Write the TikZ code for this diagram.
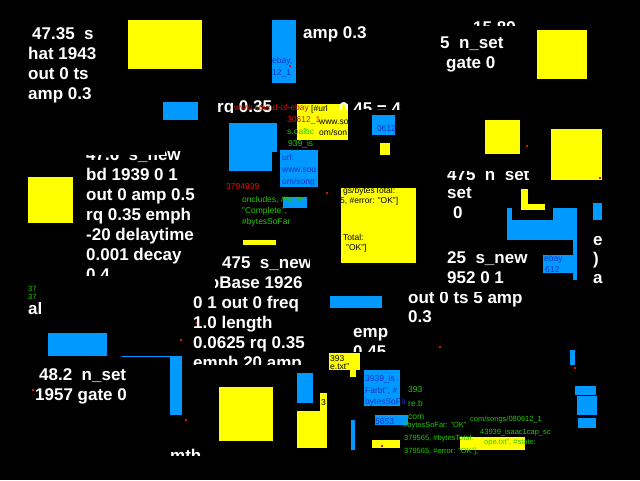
\documentclass[tikz,border=0pt]{standalone}
\usepackage{fontspec}
\setmainfont{Liberation Sans}
\definecolor{yel}{RGB}{255,255,0}
\definecolor{blu}{RGB}{0,153,255}
\definecolor{grn}{RGB}{40,200,0}
\definecolor{rd}{RGB}{220,20,0}
\definecolor{dbl}{RGB}{20,50,200}
\tikzset{
  yb/.style={fill=yel},
  bb/.style={fill=blu},
  wt/.style={anchor=base west, inner sep=0pt, text=white, font=\fontsize{17}{20}\selectfont\bfseries},
  st/.style={anchor=base west, inner sep=0pt, font=\fontsize{8.5}{9}\selectfont},
  tt/.style={anchor=base west, inner sep=0pt, font=\fontsize{7.5}{8}\selectfont},
  gt/.style={st, text=grn},
  gtt/.style={tt, text=grn},
  rt/.style={st, text=rd},
  bt/.style={st, text=dbl},
  kt/.style={st, text=black},
  rdot/.style={fill=rd}
}
\begin{document}
\begin{tikzpicture}[x=1pt,y=-1pt]
\fill[black] (0,0) rectangle (640,480);
\useasboundingbox (0,0) rectangle (640,480);
% yellow blocks
\fill[yb] (128,20) rectangle (202,69);
\fill[yb] (537,30) rectangle (587,79);
\fill[yb] (485,120) rectangle (520,154);
\fill[yb] (551,129) rectangle (602,180);
\fill[yb] (28,177) rectangle (73,223);
\fill[yb] (341,188) rectangle (416,263);
\fill[yb] (219,387) rectangle (273,441);
\fill[yb] (297,411) rectangle (327,448);
\fill[yb] (320,393) rectangle (327,411);
\fill[yb] (329,353) rectangle (360,370);
\fill[yb] (350,370) rectangle (356,377);
\fill[yb] (372,440) rectangle (400,448);
\fill[yb] (460,437) rectangle (525,450);
\fill[yb] (297,104) rectangle (348,140);
\fill[yb] (380,143) rectangle (390,155);
\fill[yb] (243,240) rectangle (276,245);
\fill[yb] (521,189) rectangle (528,210);
\fill[yb] (521,204) rectangle (545,210);
% blue blocks
\fill[bb] (272,20) rectangle (296,83);
\fill[bb] (163,102) rectangle (198,120);
\fill[bb] (229,123) rectangle (277,152);
\fill[bb] (229,152) rectangle (272,171);
\fill[bb] (280,150) rectangle (318,187);
\fill[bb] (372,115) rectangle (395,135);
\fill[bb] (283,197) rectangle (307,208);
\fill[bb] (507,208) rectangle (512,221);
\fill[bb] (507,220) rectangle (555,240);
\fill[bb] (553,208) rectangle (577,240);
\fill[bb] (573,240) rectangle (577,280);
\fill[bb] (593,203) rectangle (602,220);
\fill[bb] (543,255) rectangle (573,273);
\fill[bb] (330,296) rectangle (382,308);
\fill[bb] (48,333) rectangle (107,356);
\fill[bb] (170,356) rectangle (182,415);
\fill[bb] (122,355.5) rectangle (172,356.5);
\fill[bb] (297,373) rectangle (313,403);
\fill[bb] (364,370) rectangle (400,406);
\fill[bb] (375,415) rectangle (408,425);
\fill[bb] (351,420) rectangle (355,450);
\fill[bb] (570,350) rectangle (575,365);
\fill[bb] (575,386) rectangle (596,395);
\fill[bb] (577,396) rectangle (597,415);
\fill[bb] (578,418) rectangle (596,428);
% red specks
\foreach \px/\py in {327/193, 527/146, 600/178, 440/347, 382/446, 575/368, 181/340, 33/390, 290/66, 197/323, 186/420}
  \fill[rdot] (\px-1.2,\py-1.2) rectangle (\px+1.2,\py+1.2);
% white text, block A
\node[wt] (a1) at (32,39) {47.35~~s};
\node[wt] (a2) at (28,59) {hat 1943};
\node[wt] (a3) at (28,79) {out 0 ts};
\node[wt] (a4) at (28,99) {amp 0.3};
% block B
\begin{scope}
\clip (80,155) -- (165,155) -- (165,148) -- (200,148) -- (200,166) -- (80,166) -- cycle;
\node[wt] (b0) at (86,160) {47.6~~s\_new};
\end{scope}
\node[wt] (b1) at (86,180) {bd 1939 0 1};
\node[wt] (b2) at (86,200) {out 0 amp 0.5};
\node[wt] (b3) at (86,220) {rq 0.35 emph};
\node[wt] (b4) at (86,240) {-20 delaytime};
\node[wt] (b5) at (86,260) {0.001 decay};
\begin{scope}
\clip (80,262) rectangle (130,275);
\node[wt] (b6) at (86,280) {0.4};
\end{scope}
% block C
\begin{scope}
\clip (215,250) rectangle (309,292);
\node[wt] (c1) at (222,268) {475~~s\_new};
\node[wt] (c2) at (204,288) {loBase 1926};
\end{scope}
\node[wt] (c3) at (193,308) {0 1 out 0 freq};
\node[wt] (c4) at (193,328) {1.0 length};
\node[wt] (c5) at (193,348) {0.0625 rq 0.35};
\begin{scope}
\clip (190,355) rectangle (310,364);
\node[wt] (c6) at (193,368) {emph 20 amp};
\end{scope}
% block D
\node[wt] (d1) at (39,380) {48.2~~n\_set};
\node[wt] (d2) at (35,400) {1957 gate 0};
% block E
\node[wt] (e0) at (303,38) {amp 0.3};
\begin{scope}
\clip (470,18) rectangle (520,25);
\node[wt] (e1) at (473,33) {15 89};
\end{scope}
\node[wt] (e2) at (440,48) {5~~n\_set};
\node[wt] (e3) at (446,68) {gate 0};
% block F
\begin{scope}
\clip (445,171) rectangle (530,179);
\node[wt] (f1) at (447,180) {475~~n\_set};
\end{scope}
\node[wt] (f2) at (447,198) {set};
\node[wt] (f3) at (453,218) {0};
\node[wt] (f4) at (447,263) {25~~s\_new};
\node[wt] (f5) at (447,283) {952 0 1};
\begin{scope}
\clip (400,292) rectangle (540,310);
\node[wt] (f6) at (408,303) {out 0 ts 5 amp};
\end{scope}
\node[wt] (f7) at (408,322) {0.3};
\begin{scope}
\clip (345,320) rectangle (387,341);
\node[wt] (f8) at (353,337) {emp};
\end{scope}
\begin{scope}
\clip (345,344) rectangle (400,351);
\node[wt] (f9) at (353,357) {0.45};
\end{scope}
\begin{scope}
\clip (585,225) rectangle (602,290);
\node[wt] (g1) at (593,245) {e};
\node[wt] (g2) at (593,264) {)};
\node[wt] (g3) at (593,283) {a};
\end{scope}
\begin{scope}
\clip (335,101) rectangle (400,109);
\node[wt] (h1) at (339,114) {0.45 = 4};
\end{scope}
\begin{scope}
\clip (210,100) rectangle (275,112);
\node[wt] (h2) at (217,112) {rq 0.35};
\end{scope}
\begin{scope}
\clip (165,446) rectangle (200,455);
\node[wt] (h3) at (170,461) {mth};
\end{scope}
\begin{scope}
\clip (25,302) rectangle (45,315);
\node[wt] (h4) at (28,314) {al};
\end{scope}
% small coloured texts
\node[rt] (s1) at (234,110) {www.sound-of-ebay};
\node[kt] (s2) at (311,111) {[\#url};
\node[rt] (s3) at (287,122) {30612\_1};
\node[kt] (s4) at (319,124) {www.so};
\node[gt] (s5) at (287,134) {s.oalbc};
\node[kt] (s6) at (319,135) {om/son};
\node[gt] (s7) at (288,146) {939\_is};
\node[bt] (s8) at (377,131) {0612};
\node[bt] (s9) at (282,160) {url:};
\node[bt] (s10) at (282,172) {www.sou};
\node[bt] (s11) at (282,184) {om/song};
\node[rt] (s12) at (226,189) {3794939};
\node[gt] (s13) at (242,202) {oncludes, \#state:};
\node[gt] (s14) at (242,213) {"Complete",};
\node[gt] (s15) at (242,224) {\#bytesSoFar};
\node[kt] (s16) at (343,193) {gs/bytesTotal:};
\node[kt] (s17) at (340,203) {5, \#error: "OK"]};
\node[kt] (s18) at (343,240) {Total:};
\node[kt] (s19) at (346,250) {"OK"]};
\node[bt] (s20) at (272,63) {ebay,};
\node[bt] (s21) at (272,75) {12\_1};
\node[gtt] (s22) at (28,291) {37};
\node[gtt] (s23) at (28,299) {37};
\node[bt] (s24) at (544,261) {ebay};
\node[bt] (s25) at (545,272) {612};
\node[bt] (s26) at (365,381) {3939\_is};
\node[bt] (s27) at (365,393) {Farbt", \#};
\node[bt] (s28) at (365,404) {bytesSoFa};
\node[gt] (s29) at (408,392) {393};
\node[gt] (s30) at (408,406) {re.b};
\node[gt] (s31) at (408,419) {com};
\node[bt] (s32) at (375,424) {5653};
\node[gtt] (s33) at (403,427) {\#bytesSoFar: "OK"};
\node[gtt] (s34) at (470,421) {com/songs/080612\_1};
\node[gtt] (s35) at (480,434) {43939\_isaac1cap\_sc};
\node[gtt] (s36) at (404,440) {379565, \#bytesTotal:};
\node[gtt] (s37) at (484,444) {ope.txt", \#state:};
\node[gtt] (s38) at (404,453) {379565, \#error: "OK"],};
\node[kt] (s39) at (330,361) {393};
\node[kt] (s40) at (330,369) {e.txt"};
\node[kt] (s41) at (321,405) {3};
\end{tikzpicture}
\end{document}
